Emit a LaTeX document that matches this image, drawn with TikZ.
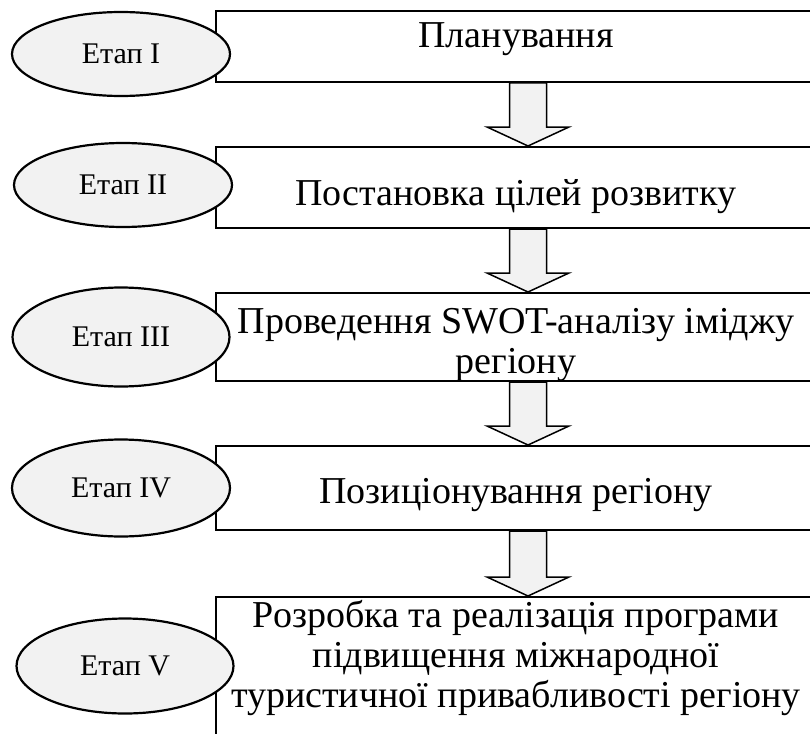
\documentclass[tikz,border=0pt]{standalone}
\usepackage{fontspec}
\setmainfont{Liberation Serif}
\usetikzlibrary{shapes.geometric,calc}
\begin{document}
\begin{tikzpicture}[x=1pt,y=-1pt,
  stage/.style={ellipse,draw,line width=2.2pt,fill=black!5,inner sep=0pt,font=\fontsize{30}{34}\selectfont},
  stagebox/.style={rectangle,draw,line width=2pt,fill=white,inner sep=0pt,minimum width=624pt},
  boxtext/.style={anchor=base,inner sep=0pt,font=\fontsize{38}{40}\selectfont},
  fatarrow/.style={draw,line width=1.5pt,fill=black!5,line join=miter}]
\useasboundingbox (0,0) rectangle (810,733);
\clip (0,0) rectangle (810,733);
% boxes
\node[stagebox,minimum height=71pt]  (b1) at (528,46.5) {};
\node[stagebox,minimum height=81pt]  (b2) at (528,187.5) {};
\node[stagebox,minimum height=88pt]  (b3) at (528,337) {};
\node[stagebox,minimum height=84pt]  (b4) at (528,488) {};
\node[stagebox,minimum height=163pt] (b5) at (528,678.5) {};
% arrows
\foreach \a/\b in {b1/b2,b2/b3,b3/b4,b4/b5}
  \draw[fatarrow] let \p1=(\a.south), \p2=(\b.north) in
    (\x1-18.5pt,\y1) -- (\x1-18.5pt,\y2+19pt) -- (\x1-41pt,\y2+19pt) -- (\x1,\y2)
    -- (\x1+41pt,\y2+19pt) -- (\x1+18.5pt,\y2+19pt) -- (\x1+18.5pt,\y1) -- cycle;
% box texts
\node[boxtext] (t1) at (516,48) {Планування};
\node[boxtext] (t2) at (516,205) {Постановка цілей розвитку};
\node[boxtext] (t3a) at (516,333) {Проведення SWOT-аналізу іміджу};
\node[boxtext] (t3b) at (516,373) {регіону};
\node[boxtext] (t4) at (516,503) {Позиціонування регіону};
\node[boxtext] (t5a) at (516,627) {Розробка та реалізація програми};
\node[boxtext] (t5b) at (516,667) {підвищення міжнародної};
\node[boxtext] (t5c) at (516,707) {туристичної привабливості регіону};
% stage ellipses
\node[stage,minimum width=218pt,minimum height=84pt] (e1) at (121,54) {Етап I};
\node[stage,minimum width=218pt,minimum height=84pt] (e2) at (123,185) {Етап II};
\node[stage,minimum width=217pt,minimum height=99pt] (e3) at (121,337) {Етап III};
\node[stage,minimum width=218pt,minimum height=97pt] (e4) at (121,488) {Етап IV};
\node[stage,minimum width=217pt,minimum height=95pt] (e5) at (125,666) {Етап V};
\end{tikzpicture}
\end{document}
